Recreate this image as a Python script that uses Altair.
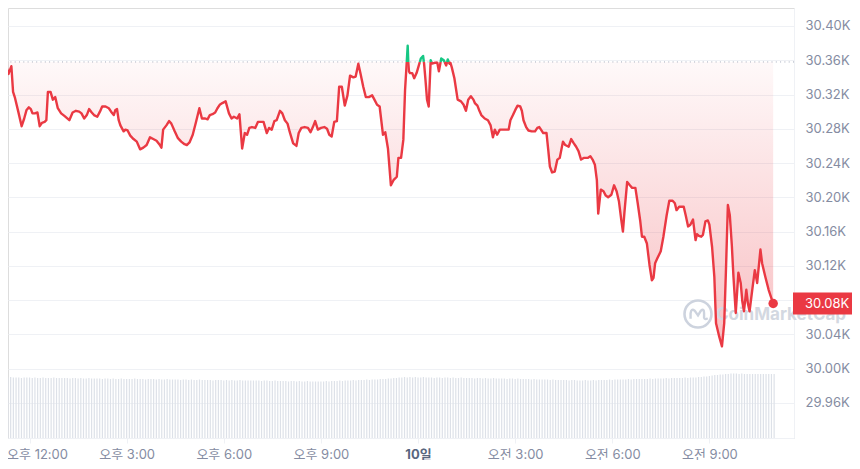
import altair as alt
import pandas as pd

# ---------------- data ----------------
# time in hours since 00:00 of the 9th (24 = midnight, "10일"), price in thousands USD
hours = [
    11.247, 11.298, 11.348, 11.399, 11.439, 11.491, 11.551, 11.652, 11.756, 11.835,
    11.908, 11.979, 12.040, 12.091, 12.162, 12.244, 12.314, 12.384, 12.466, 12.519,
    12.567, 12.649, 12.719, 12.793, 12.873, 12.976, 13.076, 13.229, 13.330, 13.433,
    13.534, 13.605, 13.687, 13.769, 13.839, 13.921, 13.991, 14.092, 14.174, 14.244,
    14.348, 14.449, 14.519, 14.602, 14.653, 14.702, 14.754, 14.806, 14.906, 14.959,
    15.029, 15.111, 15.212, 15.312, 15.415, 15.516, 15.617, 15.721, 15.821, 15.922,
    16.026, 16.074, 16.127, 16.227, 16.310, 16.380, 16.484, 16.584, 16.684, 16.788,
    16.858, 16.941, 17.041, 17.142, 17.246, 17.325, 17.428, 17.498, 17.569, 17.651,
    17.734, 17.804, 17.874, 17.956, 18.057, 18.160, 18.240, 18.313, 18.413, 18.483,
    18.567, 18.649, 18.719, 18.789, 18.871, 18.972, 19.054, 19.124, 19.228, 19.329,
    19.398, 19.481, 19.563, 19.634, 19.735, 19.808, 19.887, 19.969, 20.039, 20.143,
    20.244, 20.314, 20.396, 20.497, 20.600, 20.679, 20.752, 20.822, 20.906, 21.005,
    21.106, 21.189, 21.259, 21.332, 21.412, 21.494, 21.564, 21.646, 21.737, 21.820,
    21.900, 22.003, 22.074, 22.156, 22.226, 22.308, 22.387, 22.479, 22.583, 22.653,
    22.735, 22.814, 22.918, 22.988, 23.071, 23.162, 23.242, 23.345, 23.394, 23.476,
    23.546, 23.599, 23.650, 23.681, 23.700, 23.720, 23.751, 23.821, 23.882, 23.955,
    24.025, 24.086, 24.156, 24.187, 24.230, 24.278, 24.330, 24.391, 24.430, 24.513,
    24.596, 24.644, 24.717, 24.796, 24.870, 24.919, 24.970, 25.001, 25.041, 25.123,
    25.224, 25.327, 25.407, 25.480, 25.550, 25.632, 25.711, 25.755, 25.834, 25.885,
    25.955, 26.059, 26.160, 26.242, 26.313, 26.373, 26.443, 26.526, 26.596, 26.700,
    26.800, 26.853, 26.932, 27.005, 27.075, 27.157, 27.207, 27.258, 27.340, 27.410,
    27.511, 27.614, 27.685, 27.746, 27.798, 27.867, 27.969, 28.021, 28.072, 28.142,
    28.224, 28.304, 28.377, 28.477, 28.548, 28.652, 28.731, 28.813, 28.884, 28.957,
    29.036, 29.118, 29.240, 29.322, 29.392, 29.463, 29.524, 29.566, 29.646, 29.729,
    29.799, 29.872, 29.972, 30.055, 30.134, 30.207, 30.277, 30.329, 30.377, 30.460,
    30.543, 30.613, 30.714, 30.786, 30.865, 30.917, 30.988, 31.070, 31.150, 31.223,
    31.274, 31.323, 31.396, 31.497, 31.579, 31.680, 31.762, 31.863, 31.933, 31.985,
    32.067, 32.137, 32.207, 32.268, 32.342, 32.412, 32.494, 32.573, 32.617, 32.677,
    32.747, 32.799, 32.879, 32.952, 33.000, 33.083, 33.153, 33.205, 33.306, 33.388,
    33.458, 33.510, 33.571, 33.631, 33.693, 33.744, 33.814, 33.896, 33.967, 34.019,
    34.068, 34.141, 34.190, 34.241, 34.324, 34.403, 34.476, 34.525, 34.577, 34.628,
    34.729, 34.830, 34.970,
]
prices = [
    30.356, 30.351, 30.344, 30.349, 30.353, 30.323, 30.316, 30.300, 30.283, 30.292,
    30.302, 30.305, 30.303, 30.298, 30.298, 30.299, 30.283, 30.287, 30.288, 30.290,
    30.323, 30.323, 30.314, 30.317, 30.304, 30.298, 30.295, 30.290, 30.299, 30.301,
    30.300, 30.298, 30.292, 30.296, 30.303, 30.299, 30.296, 30.294, 30.300, 30.306,
    30.306, 30.304, 30.300, 30.296, 30.302, 30.303, 30.290, 30.284, 30.277, 30.279,
    30.278, 30.272, 30.268, 30.265, 30.256, 30.258, 30.261, 30.270, 30.268, 30.266,
    30.261, 30.258, 30.279, 30.284, 30.289, 30.286, 30.277, 30.269, 30.265, 30.262,
    30.261, 30.264, 30.273, 30.288, 30.304, 30.292, 30.292, 30.291, 30.296, 30.297,
    30.299, 30.304, 30.308, 30.310, 30.312, 30.298, 30.292, 30.294, 30.292, 30.297,
    30.257, 30.275, 30.273, 30.281, 30.282, 30.281, 30.288, 30.288, 30.288, 30.275,
    30.281, 30.279, 30.289, 30.290, 30.301, 30.298, 30.290, 30.286, 30.276, 30.263,
    30.260, 30.275, 30.281, 30.282, 30.281, 30.276, 30.282, 30.289, 30.279, 30.281,
    30.282, 30.280, 30.273, 30.271, 30.288, 30.289, 30.329, 30.329, 30.307, 30.319,
    30.342, 30.340, 30.341, 30.356, 30.344, 30.329, 30.317, 30.317, 30.319, 30.314,
    30.308, 30.306, 30.273, 30.276, 30.257, 30.214, 30.220, 30.224, 30.246, 30.246,
    30.267, 30.325, 30.357, 30.377, 30.357, 30.347, 30.345, 30.345, 30.339, 30.345,
    30.354, 30.362, 30.365, 30.356, 30.337, 30.314, 30.306, 30.360, 30.356, 30.357,
    30.357, 30.347, 30.362, 30.360, 30.354, 30.361, 30.356, 30.357, 30.352, 30.339,
    30.314, 30.312, 30.308, 30.301, 30.314, 30.318, 30.314, 30.310, 30.307, 30.302,
    30.296, 30.292, 30.290, 30.284, 30.270, 30.279, 30.273, 30.279, 30.279, 30.279,
    30.279, 30.290, 30.296, 30.302, 30.307, 30.306, 30.301, 30.290, 30.282, 30.278,
    30.277, 30.277, 30.281, 30.282, 30.279, 30.275, 30.275, 30.256, 30.236, 30.229,
    30.230, 30.244, 30.246, 30.265, 30.261, 30.259, 30.268, 30.263, 30.259, 30.254,
    30.244, 30.246, 30.246, 30.248, 30.244, 30.238, 30.220, 30.181, 30.209, 30.207,
    30.202, 30.200, 30.203, 30.214, 30.207, 30.195, 30.174, 30.160, 30.183, 30.218,
    30.214, 30.211, 30.211, 30.193, 30.172, 30.154, 30.154, 30.146, 30.121, 30.103,
    30.106, 30.123, 30.129, 30.137, 30.154, 30.179, 30.196, 30.196, 30.193, 30.185,
    30.189, 30.189, 30.189, 30.179, 30.166, 30.168, 30.174, 30.150, 30.157, 30.155,
    30.154, 30.156, 30.172, 30.173, 30.168, 30.142, 30.107, 30.053, 30.037, 30.026,
    30.053, 30.113, 30.191, 30.179, 30.144, 30.107, 30.065, 30.112, 30.100, 30.078,
    30.067, 30.092, 30.076, 30.067, 30.092, 30.115, 30.100, 30.119, 30.139, 30.123,
    30.107, 30.092, 30.076,
]
open_price = 30.358  # dotted reference line (price 24h ago)

# 24h volume (billions USD), one bar every 5 minutes from 11:00
volume_start_hour = 11.0
volume = [
    12.1, 12.1, 12.2, 12.1, 12.1, 12.2, 12.1, 12.1, 12.1, 12.0, 12.1, 12.1, 12.1, 12.0, 12.1, 12.0, 12.0, 12.1, 12.0, 12.0, 12.0, 12.1, 12.0, 12.0,
    12.0, 12.0, 12.0, 11.9, 12.0, 12.0, 11.9, 12.0, 11.9, 11.9, 12.0, 11.9, 11.9, 11.9, 11.9, 11.8, 11.9, 11.9, 11.8, 11.9, 11.8, 11.8, 11.9, 11.8,
    11.8, 11.8, 11.8, 11.9, 11.8, 11.8, 11.8, 11.7, 11.8, 11.8, 11.8, 11.7, 11.8, 11.7, 11.7, 11.8, 11.7, 11.7, 11.7, 11.7, 11.6, 11.7, 11.7, 11.6,
    11.7, 11.6, 11.6, 11.7, 11.6, 11.6, 11.6, 11.6, 11.5, 11.6, 11.6, 11.6, 11.5, 11.6, 11.5, 11.6, 11.5, 11.5, 11.6, 11.5, 11.5, 11.5, 11.5, 11.5,
    11.5, 11.5, 11.4, 11.5, 11.5, 11.4, 11.4, 11.5, 11.4, 11.4, 11.4, 11.4, 11.3, 11.4, 11.4, 11.3, 11.4, 11.3, 11.3, 11.4, 11.3, 11.3, 11.3, 11.3,
    11.3, 11.3, 11.4, 11.3, 11.4, 11.4, 11.4, 11.5, 11.4, 11.5, 11.5, 11.5, 11.6, 11.5, 11.6, 11.6, 11.6, 11.7, 11.6, 11.7, 11.7, 11.7, 11.8, 11.8,
    11.8, 11.9, 11.9, 12.0, 12.0, 12.1, 12.1, 12.2, 12.1, 12.2, 12.1, 12.2, 12.1, 12.1, 12.2, 12.1, 12.1, 12.1, 12.0, 12.1, 12.1, 12.0, 12.1, 12.1,
    12.0, 12.1, 12.0, 12.0, 12.1, 12.0, 12.0, 12.0, 12.0, 11.9, 12.0, 12.0, 11.9, 12.0, 11.9, 11.9, 12.0, 11.9, 11.9, 11.9, 11.9, 11.8, 11.9, 11.9,
    11.8, 11.9, 11.8, 11.8, 11.8, 11.8, 11.7, 11.8, 11.7, 11.7, 11.7, 11.7, 11.7, 11.6, 11.7, 11.6, 11.6, 11.6, 11.6, 11.6, 11.5, 11.6, 11.6, 11.5,
    11.5, 11.5, 11.6, 11.5, 11.5, 11.6, 11.5, 11.6, 11.6, 11.6, 11.6, 11.7, 11.6, 11.7, 11.7, 11.7, 11.7, 11.7, 11.8, 11.7, 11.8, 11.8, 11.8, 11.8,
    11.8, 11.8, 11.9, 11.8, 11.9, 11.9, 11.9, 11.9, 12.0, 11.9, 12.0, 12.0, 12.0, 12.0, 12.0, 12.1, 12.0, 12.1, 12.1, 12.1, 12.2, 12.2, 12.3, 12.3,
    12.4, 12.5, 12.6, 12.6, 12.7, 12.7, 12.8, 12.8, 12.9, 12.9, 12.9, 12.8, 12.9, 12.8, 12.8, 12.8, 12.8, 12.8, 12.8, 12.8, 12.8, 12.8, 12.8, 12.8, 12.8,
]

x_tick_values = [12, 15, 18, 21, 24, 27, 30, 33]
x_tick_labels = ["오후 12:00", "오후 3:00", "오후 6:00", "오후 9:00", "10일", "오전 3:00", "오전 6:00", "오전 9:00"]
y_tick_values = [29.96, 30.00, 30.04, 30.08, 30.12, 30.16, 30.20, 30.24, 30.28, 30.32, 30.36, 30.40]
y_tick_labels = ["29.96K", "30.00K", "30.04K", "30.08K", "30.12K", "30.16K", "30.20K", "30.24K", "30.28K", "30.32K", "30.36K", "30.40K"]

# ---------------- styling ----------------
FONT = "Inter, 'Noto Sans CJK KR', sans-serif"
RED = "#ea3943"
GREEN = "#16c784"
AXIS_TXT = "#858ca2"
GRID = "#eff1f5"
X_DOMAIN = [11.489, 35.459]
Y_DOMAIN = [29.919, 30.421]


def label_expr(values, labels, hide_near=None, hide_dist=0.0):
    expr = "''"
    for v, l in reversed(list(zip(values, labels))):
        if hide_near is not None and abs(v - hide_near) < hide_dist:
            l = ""  # covered by the current-price tag
        expr = f"abs(datum.value - {v}) < 0.001 ? '{l}' : ({expr})"
    return expr


# ---------------- tables ----------------
# insert crossing points with the reference line so the line can switch colour
aug_t, aug_p = [hours[0]], [prices[0]]
for i in range(1, len(hours)):
    t0, p0, t1, p1 = hours[i - 1], prices[i - 1], hours[i], prices[i]
    if (p0 > open_price) != (p1 > open_price):
        tc = t0 + (open_price - p0) / (p1 - p0) * (t1 - t0)
        aug_t.append(tc)
        aug_p.append(open_price)
    aug_t.append(t1)
    aug_p.append(p1)

rows = []
seg = 0
side = "up" if aug_p[0] > open_price else "down"
for j, (t, p) in enumerate(zip(aug_t, aug_p)):
    rows.append(dict(t=t, p=p, seg=seg, side=side))
    if p == open_price and 0 < j < len(aug_p) - 1:
        nxt = aug_p[j + 1]
        new_side = "up" if nxt > open_price else "down"
        if new_side != side:
            seg += 1
            side = new_side
            rows.append(dict(t=t, p=p, seg=seg, side=side))
line_df = pd.DataFrame(rows)
line_df["lo"] = line_df["p"].clip(upper=open_price)
line_df["hi"] = line_df["p"].clip(lower=open_price)
line_df["b"] = open_price

vol_df = pd.DataFrame({"t": [volume_start_hour + i / 12 for i in range(len(volume))], "v": volume})
base_df = pd.DataFrame({"b": [open_price]})
last_df = pd.DataFrame({"t": [hours[-1]], "p": [prices[-1]], "lbl": [f"{prices[-1]:.2f}K"]})
wm_df = pd.DataFrame({"w": ["CoinMarketCap"]})

# ---------------- scales / axes ----------------
xscale = alt.Scale(domain=X_DOMAIN, nice=False, zero=False)
yscale = alt.Scale(domain=Y_DOMAIN, nice=False, zero=False)

xaxis = alt.Axis(
    values=x_tick_values, labelExpr=label_expr(x_tick_values, x_tick_labels),
    grid=False, domain=True, domainColor=GRID, ticks=True, tickColor=GRID, tickSize=5,
    labelPadding=5, labelFont=FONT, labelFontSize=13, title=None, labelOverlap=False,
    labelColor={"condition": {"test": "datum.value == 24", "value": "#58667e"}, "value": AXIS_TXT},
    labelFontWeight={"condition": {"test": "datum.value == 24", "value": "bold"}, "value": "normal"},
    labelOffset={"condition": {"test": "datum.value == 12", "value": 7.5}, "value": 0},
)
yaxis = alt.Axis(
    orient="right", values=y_tick_values,
    labelExpr=label_expr(y_tick_values, y_tick_labels, hide_near=prices[-1], hide_dist=0.015),
    grid=True, gridColor=GRID, domain=True, domainColor=GRID, ticks=False,
    labelPadding=11, labelFont=FONT, labelFontSize=13, labelColor=AXIS_TXT,
    labelAlign="left", title=None, labelOverlap=False,
)

X = alt.X("t:Q", scale=xscale, axis=xaxis)

# ---------------- layers ----------------
vol_layer = alt.Chart(vol_df).mark_bar(size=1.2, color="#dde1e8", clip=True).encode(
    x=X, y=alt.Y("v:Q", scale=alt.Scale(domain=[0, 86], nice=False, zero=True), axis=None)
)

gradient = alt.Gradient(
    gradient="linear",
    stops=[alt.GradientStop(color="rgba(234,57,67,0.03)", offset=0),
           alt.GradientStop(color="rgba(234,57,67,0.32)", offset=1)],
    x1=1, x2=1, y1=0, y2=1,
)
area_red = alt.Chart(line_df).mark_area(fill=gradient, clip=True).encode(
    x=X, y=alt.Y("lo:Q", scale=yscale, axis=yaxis), y2="b:Q"
)
area_green = alt.Chart(line_df).mark_area(color=GREEN, opacity=0.12, clip=True).encode(
    x=X, y=alt.Y("hi:Q", scale=yscale, axis=yaxis), y2="b:Q"
)
base_rule = alt.Chart(base_df).mark_rule(color="#a3abbb", strokeDash=[1, 3.3], strokeWidth=1).encode(
    y=alt.Y("b:Q", scale=yscale, axis=yaxis)
)
wm_ring = alt.Chart(wm_df).mark_point(shape="circle", size=729, filled=False, strokeWidth=2.6,
                                      color="#cdd3de", opacity=1).encode(
    x=alt.value(690), y=alt.value(306)
)
wm_m = alt.Chart(wm_df).mark_point(
    shape="M-0.55,0.35 L-0.55,-0.05 Q-0.5,-0.45 -0.25,-0.25 L0,0.1 L0.22,-0.25 Q0.45,-0.45 0.45,-0.05 L0.45,0.28 Q0.5,0.45 0.72,0.32",
    size=729, filled=False, strokeWidth=2.4, color="#cdd3de", opacity=1,
).encode(x=alt.value(690), y=alt.value(306))
wm_text = alt.Chart(wm_df).mark_text(align="left", baseline="middle", font=FONT, fontSize=17,
                                     fontWeight="bold", color="#d3d8e1").encode(
    x=alt.value(708), y=alt.value(307), text="w:N"
)
line = alt.Chart(line_df).mark_line(strokeWidth=2.4, clip=True, strokeJoin="round").encode(
    x=X, y=alt.Y("p:Q", scale=yscale, axis=yaxis),
    color=alt.Color("side:N", scale=alt.Scale(domain=["down", "up"], range=[RED, GREEN]), legend=None),
    detail="seg:N",
)
dot = alt.Chart(last_df).mark_point(filled=True, size=90, color=RED, opacity=1).encode(
    x=X, y=alt.Y("p:Q", scale=yscale, axis=yaxis)
)
tag = alt.Chart(last_df).mark_tick(orient="horizontal", thickness=22, size=66, color=RED, opacity=1).encode(
    x=alt.value(818), y=alt.Y("p:Q", scale=yscale, axis=yaxis)
)
tag_text = alt.Chart(last_df).mark_text(align="left", baseline="middle", font=FONT, fontSize=13,
                                        color="white").encode(
    x=alt.value(797), y=alt.Y("p:Q", scale=yscale, axis=yaxis), text="lbl:N"
)

price_layers = alt.layer(area_red, area_green, base_rule, wm_ring, wm_m, wm_text, line, dot, tag, tag_text)

chart = alt.layer(vol_layer, price_layers).resolve_scale(y="independent").properties(
    width=786, height=430,
    autosize=alt.AutoSizeParams(type="none"),
    padding={"left": 0, "top": 0, "right": 58, "bottom": 22},
).configure_view(stroke=None).configure(background="white")

chart.save("out.html", embed_options={"renderer": "svg", "actions": False})
